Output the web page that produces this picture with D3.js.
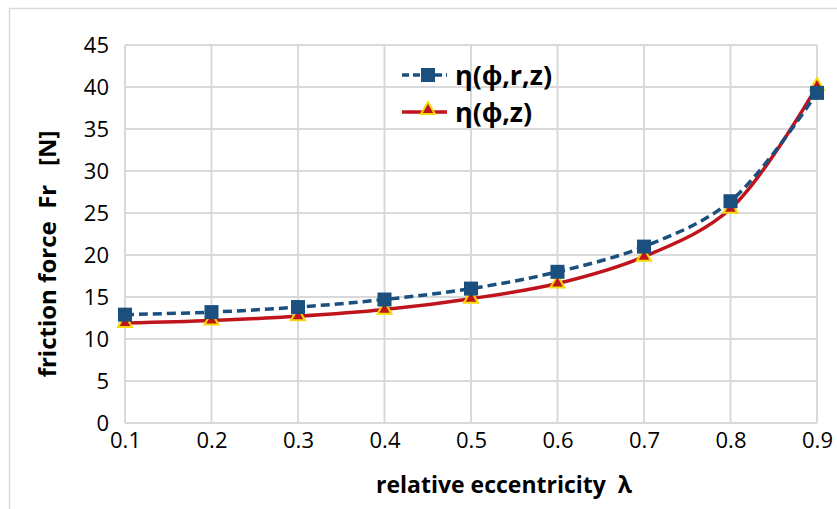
<!DOCTYPE html>
<html lang="en">
<head>
<meta charset="utf-8">
<title>Friction force vs eccentricity</title>
<style>
  body {margin: 0; background: #fff; font-family: "Open Sans", "Liberation Sans", sans-serif;}
  .grid line {stroke: #d9d9d9; stroke-width: 2;}
  .axis-title {font-size: 23px; font-weight: bold; white-space: pre;}
  .legend text {font-size: 27px; font-weight: bold;}
</style>
</head>
<body>
<svg id="chart" width="837" height="509"></svg>
<script src="https://d3js.org/d3.v7.min.js"></script>
<script>
// relative eccentricity values
const lambda = [0.1, 0.2, 0.3, 0.4, 0.5, 0.6, 0.7, 0.8, 0.9];
// friction force Fr [N]
const frRZ = [12.9, 13.2, 13.8, 14.7, 16.0, 18.0, 21.0, 26.4, 39.3];
const frZ  = [11.9, 12.2, 12.7, 13.5, 14.8, 16.6, 19.8, 25.5, 40.1];
const yTicks = [0, 5, 10, 15, 20, 25, 30, 35, 40, 45];
const seriesNames = ["η(ϕ,r,z)", "η(ϕ,z)"];

const svg = d3.select("#chart");
const plotL = 125, plotR = 817, plotT = 45, plotB = 423;

const x = d3.scaleLinear().domain([0.1, 0.9]).range([plotL, plotR]);
const y = d3.scaleLinear().domain([0, 45]).range([plotB, plotT]);

// outer chart border
svg.append("rect")
   .attr("x", 9.5).attr("y", 8.5).attr("width", 840).attr("height", 510)
   .attr("fill", "none").attr("stroke", "#d9d9d9").attr("stroke-width", 1.5);

// grid lines
const grid = svg.append("g").attr("class", "grid");
grid.selectAll(".h").data(yTicks).join("line").attr("class", "h")
    .attr("x1", plotL).attr("x2", plotR)
    .attr("y1", d => y(d)).attr("y2", d => y(d));
grid.selectAll(".v").data(lambda).join("line").attr("class", "v")
    .attr("x1", d => x(d)).attr("x2", d => x(d))
    .attr("y1", plotT).attr("y2", plotB);

// axes (labels only)
svg.append("g")
   .attr("transform", `translate(${plotL},0)`)
   .call(d3.axisLeft(y).tickValues(yTicks).tickSize(0).tickPadding(16))
   .call(g => g.select(".domain").remove())
   .attr("font-size", 22).attr("font-family", "Open Sans, sans-serif");

svg.append("g")
   .attr("transform", `translate(0,${plotB})`)
   .call(d3.axisBottom(x).tickValues(lambda).tickFormat(d3.format(".1f")).tickSize(0).tickPadding(9))
   .call(g => g.select(".domain").remove())
   .attr("font-size", 22).attr("font-family", "Open Sans, sans-serif");

// axis titles
svg.append("text").attr("class", "axis-title")
   .attr("transform", "translate(56,254) rotate(-90)")
   .attr("text-anchor", "middle")
   .style("font-size", "24px")
   .text("friction force  Fr   [N]");
svg.append("text").attr("class", "axis-title")
   .attr("x", 504).attr("y", 493)
   .attr("text-anchor", "middle")
   .text("relative eccentricity  λ");

const line = d3.line().x(d => x(d[0])).y(d => y(d[1])).curve(d3.curveCatmullRom.alpha(0.5));
const tri = d3.symbol().type(d3.symbolTriangle).size(85);

// red series (drawn first)
const redData = lambda.map((l, i) => [l, frZ[i]]);
svg.append("path").datum(redData)
   .attr("d", line).attr("fill", "none")
   .attr("stroke", "#c0141c").attr("stroke-width", 3.5);
svg.append("g").selectAll("path").data(redData).join("path")
   .attr("d", tri)
   .attr("transform", d => `translate(${x(d[0])},${y(d[1])})`)
   .attr("fill", "#c0141c").attr("stroke", "#f5d90a").attr("stroke-width", 2);

// blue series
const blueData = lambda.map((l, i) => [l, frRZ[i]]);
svg.append("path").datum(blueData)
   .attr("d", line).attr("fill", "none")
   .attr("stroke", "#1a4f7e").attr("stroke-width", 3.5)
   .attr("stroke-dasharray", "9,5");
svg.append("g").selectAll("rect").data(blueData).join("rect")
   .attr("x", d => x(d[0]) - 7).attr("y", d => y(d[1]) - 7)
   .attr("width", 14).attr("height", 14)
   .attr("fill", "#1a4f7e");

// legend
const lg = svg.append("g").attr("class", "legend");
lg.append("line").attr("x1", 402).attr("x2", 447).attr("y1", 75).attr("y2", 75)
  .attr("stroke", "#1a4f7e").attr("stroke-width", 3.5).attr("stroke-dasharray", "7,4");
lg.append("rect").attr("x", 421).attr("y", 68).attr("width", 14).attr("height", 14).attr("fill", "#1a4f7e");
lg.append("text").attr("x", 455).attr("y", 85).text(seriesNames[0]);

lg.append("line").attr("x1", 402).attr("x2", 447).attr("y1", 112).attr("y2", 112)
  .attr("stroke", "#c0141c").attr("stroke-width", 3.5);
lg.append("path").attr("d", tri).attr("transform", "translate(428,110)")
  .attr("fill", "#c0141c").attr("stroke", "#f5d90a").attr("stroke-width", 2);
lg.append("text").attr("x", 455).attr("y", 122).text(seriesNames[1]);
</script>
</body>
</html>
